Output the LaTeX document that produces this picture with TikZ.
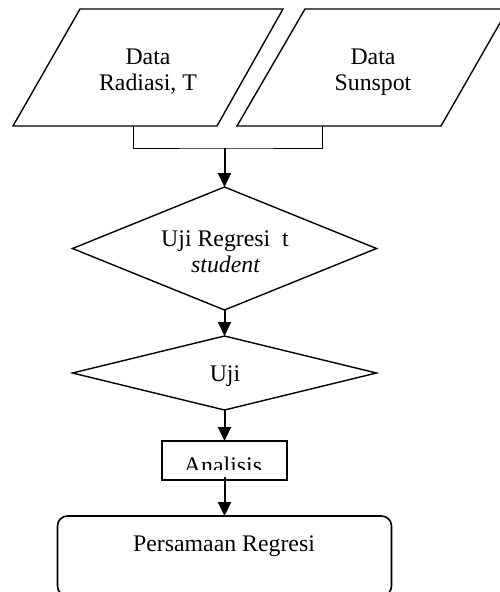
\documentclass[tikz,border=0pt]{standalone}
\usepackage{fontspec}
\setmainfont{Liberation Serif}
\usetikzlibrary{shapes.geometric,arrows.meta}
\begin{document}
\begin{tikzpicture}[x=1pt,y=-1pt,
  lbl/.style={inner sep=0pt, anchor=base, font=\fontsize{23.8}{26.5}\selectfont},
  shp/.style={draw, line width=1.4pt, inner sep=0pt, outer sep=0pt},
  dia/.style={shp, diamond, minimum width=304pt},
  arr/.style={line width=2pt, -{Triangle[length=14pt,width=13pt]}},
  brk/.style={line width=1pt},
]
\useasboundingbox (0,0) rectangle (500,592);
\clip (0,0) rectangle (500,592);
% input parallelograms
\draw[line width=1.4pt] (80,9) -- (283,9) -- (217,126) -- (13,126) -- cycle;
\draw[line width=1.4pt] (305,9) -- (508,9) -- (441,126) -- (237,126) -- cycle;
\node[lbl] (p1a) at (148,64.3) {Data};
\node[lbl] (p1b) at (148,90.7) {Radiasi, T};
\node[lbl] (p2a) at (373,64.3) {Data};
\node[lbl] (p2b) at (373,90.7) {Sunspot};
\coordinate (c1) at (133,126);
\coordinate (c2) at (322,126);
\coordinate (jn) at (224.5,148);
% decisions
\node[dia, minimum height=123pt] (d1) at (224.5,248.5) {};
\node[lbl] (d1a) at (225,246) {Uji Regresi \ t};
\node[lbl] (d1b) at (225.5,272) {\itshape student};
\node[dia, minimum height=74pt] (d2) at (224.5,373) {};
\node[lbl] (d2a) at (225,381) {Uji};
% process
\node[shp, line width=1.8pt, minimum width=125pt, minimum height=39pt] (an) at (224.5,460.5) {};
\begin{scope}
\clip (162,442) rectangle (286,469);
\node[lbl] (ant) at (223,473) {Analisis};
\end{scope}
% terminal
\node[shp, line width=1.6pt, rounded corners=10pt, minimum width=334pt, minimum height=80pt] (pr) at (224.5,556) {};
\node[lbl] (prt) at (224,551.7) {Persamaan Regresi};
% connectors
\draw[brk] (c1) |- (jn) -| (c2);
\draw[arr] (jn) -- (d1.north);
\draw[arr] (d1.south) -- (d2.north);
\draw[arr] (d2.south) -- (an.north);
\draw[arr] ([yshift=3pt]an.south) -- (pr.north);
\end{tikzpicture}
\end{document}
